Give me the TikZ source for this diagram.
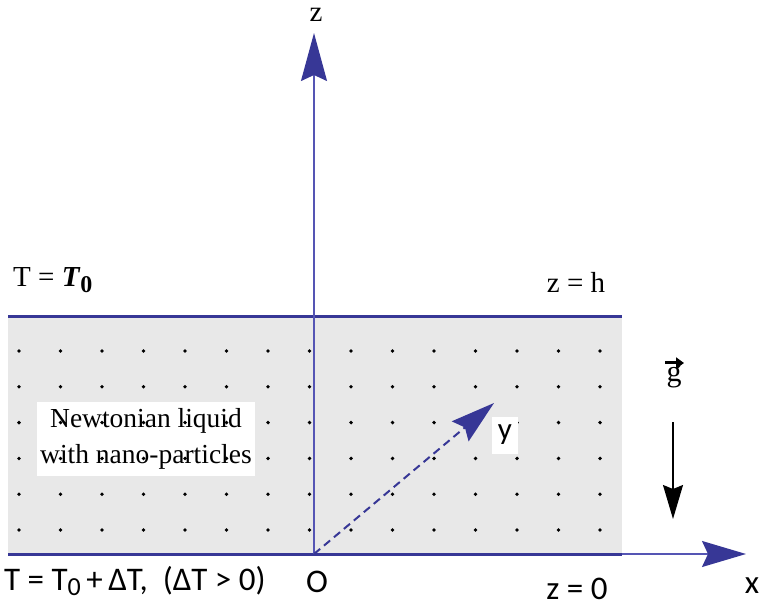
\documentclass[tikz,border=0pt]{standalone}
\usepackage{fontspec}
\setmainfont{Liberation Serif}
\newfontfamily\lblsans{Carlito}
\usetikzlibrary{arrows.meta}
\definecolor{axisblue}{RGB}{55,55,150}
\definecolor{thinblue}{RGB}{85,85,180}
\definecolor{liquid}{RGB}{232,232,232}
\tikzset{
  plate/.style={draw=axisblue, line width=3pt},
  axisline/.style={draw=thinblue, line width=1.6pt},
  bighead/.style={-{Stealth[length=48pt,width=26pt,inset=6pt,color=axisblue]}},
  dotmark/.style={circle, fill=black, inner sep=0pt, minimum size=3.8pt},
  serifl/.style={inner sep=0pt, font=\fontsize{29}{33}\selectfont},
  sansl/.style={inner sep=0pt, font=\lblsans\fontsize{33}{36}\selectfont},
}
\begin{document}
\begin{tikzpicture}[x=1pt,y=-1pt]
\useasboundingbox (0,0) rectangle (760,609);
% liquid layer
\fill[liquid] (8,318) rectangle (622,554);
% label box for the liquid
\node[fill=white, minimum width=218pt, minimum height=74pt, inner sep=0pt,
      align=center, font=\fontsize{27.5}{36}\selectfont] (liq) at (146,439)
      {Newtonian liquid\\with nano-particles};
% dots
\foreach \i in {0,...,14}{
  \foreach \j in {0,...,5}{
    \node[dotmark] (d-\i-\j) at ({19+41.5*\i},{351+35.8*\j}) {};
  }
}
% coordinates
\coordinate (O) at (314,554);
\coordinate (ztip) at (314,33);
\coordinate (xend) at (622,554);
\coordinate (xtip) at (746,554);
\coordinate (ytip) at (494,403);
\coordinate (lefttop) at (8,317);
\coordinate (righttop) at (622,317);
\coordinate (leftbot) at (8,554);
% y axis label box
\node[fill=white, minimum width=26pt, minimum height=37pt, inner sep=0pt,
      font=\lblsans\fontsize{31}{34}\selectfont] (ylab) at (505,435) {y};
% plates
\draw[plate] (lefttop) -- (righttop);
\draw[plate] (leftbot) -- (xend);
% axes
\draw[axisline, bighead] (O) -- (ztip);
\draw[axisline, -{Stealth[length=44pt,width=26pt,inset=6pt,color=axisblue]}] (xend) -- (xtip);
\draw[draw=axisblue, line width=2pt, dash pattern=on 8pt off 5pt,
      -{Stealth[length=44pt,width=26pt,inset=6pt,color=axisblue]}] (O) -- (ytip);
% labels
\node[serifl] (zlab) at (316,15) {z};
\node[sansl] (xlab) at (752,586) {x};
\node[sansl] (olab) at (317,582) {O};
\node[serifl] (zh) at (576,282) {z = h};
\node[sansl] (z0) at (577,589) {z = 0};
\node[serifl, anchor=west] (ttop) at (13,280)
  {T = \textbf{\textit{T}}\raisebox{-6pt}{\textbf{\fontsize{24}{24}\selectfont 0}}};
\node[sansl, anchor=west] (tbot) at (4,581)
  {T = T\raisebox{-5pt}{\fontsize{26}{26}\selectfont 0}\,+\,ΔT,\ \ (ΔT > 0)};
% gravity
\node[inner sep=0pt, font=\fontsize{30}{32}\selectfont] (glab) at (674,377) {g};
\coordinate (garr1) at (665,363);
\coordinate (garr2) at (684,363);
\draw[line width=3pt, -{Triangle[length=8pt,width=11pt]}] (garr1) -- (garr2);
\coordinate (gs) at (673,422);
\coordinate (ge) at (673,519);
\draw[line width=1.4pt, -{Stealth[length=34pt,width=20pt,inset=4pt]}] (gs) -- (ge);
\end{tikzpicture}
\end{document}
